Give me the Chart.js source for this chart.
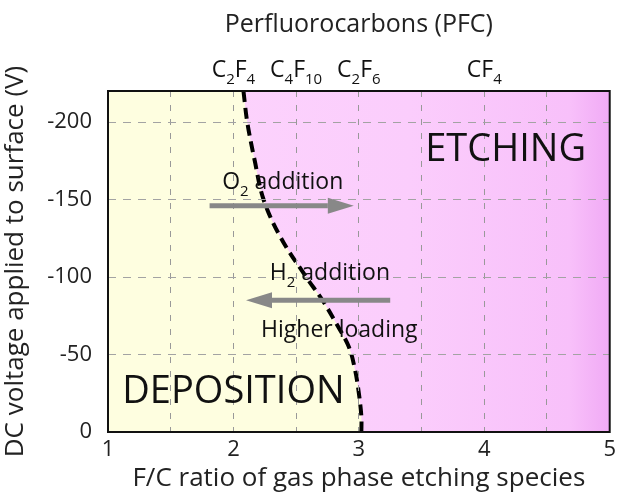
<!DOCTYPE html>
<html>
<head>
<meta charset="utf-8">
<script src="https://cdn.jsdelivr.net/npm/chart.js@4"></script>
<style>
  html, body { margin: 0; padding: 0; background: #fff; }
  #wrap { width: 621px; height: 494px; }
</style>
</head>
<body>
<div id="wrap"><canvas id="chart" width="621" height="494"></canvas></div>
<script>
// boundary between deposition and etching (F/C ratio vs DC voltage)
const boundaryVolts = [-220, -200, -175, -150, -125, -100, -85, -70, -55, -40, -25, -10, 0];
const boundaryFC    = [2.08, 2.11, 2.17, 2.24, 2.38, 2.58, 2.71, 2.82, 2.92, 2.97, 3.00, 3.02, 3.02];

// gases on the top axis, placed at their F/C ratio
const gasFC     = [2, 2.5, 3, 4];
const gasLabels = ['C_2F_4', 'C_4F_10', 'C_2F_6', 'CF_4'];

// process arrows: [from F/C, to F/C, voltage]
const o2Arrow = [1.81, 2.96, -146];
const h2Arrow = [3.25, 2.10, -85];

const xTicks = [1, 2, 3, 4, 5];
const yTicks = [0, -50, -100, -150, -200];

const FONT = "'Open Sans', 'Noto Sans', sans-serif";

function parseRich(str) {
    const parts = [];
    let i = 0;
    while (i < str.length) {
        let j = i;
        if (str[i] === '_') {
            j = i + 1;
            while (j < str.length && /\d/.test(str[j])) j++;
            parts.push({ t: str.slice(i + 1, j), sub: true });
        } else {
            while (j < str.length && str[j] !== '_') j++;
            parts.push({ t: str.slice(i, j), sub: false });
        }
        i = j;
    }
    return parts;
}

// text with subscripts, y is the baseline
function drawRich(ctx, str, x, y, size, align) {
    const parts = parseRich(str);
    const subSize = Math.round(size * 0.66);
    let total = 0;
    parts.forEach(p => {
        ctx.font = (p.sub ? subSize : size) + 'px ' + FONT;
        p.w = ctx.measureText(p.t).width;
        total += p.w;
    });
    let cx = align === 'center' ? x - total / 2 : x;
    ctx.textAlign = 'left';
    ctx.textBaseline = 'alphabetic';
    parts.forEach(p => {
        ctx.font = (p.sub ? subSize : size) + 'px ' + FONT;
        ctx.fillText(p.t, cx, p.sub ? y + size * 0.3 : y);
        cx += p.w;
    });
}

function drawArrow(ctx, x0, x1, y) {
    const dir = Math.sign(x1 - x0);
    const head = 26, half = 8;
    ctx.save();
    ctx.strokeStyle = '#888888';
    ctx.fillStyle = '#888888';
    ctx.lineWidth = 5;
    ctx.beginPath();
    ctx.moveTo(x0, y);
    ctx.lineTo(x1 - dir * head, y);
    ctx.stroke();
    ctx.beginPath();
    ctx.moveTo(x1, y);
    ctx.lineTo(x1 - dir * head, y - half);
    ctx.lineTo(x1 - dir * head, y + half);
    ctx.closePath();
    ctx.fill();
    ctx.restore();
}

const backdrop = {
    id: 'backdrop',
    beforeDraw(chart) {
        const { ctx, chartArea: a } = chart;
        const g = ctx.createLinearGradient(a.left, 0, a.right, 0);
        g.addColorStop(0, '#fdd6fd');
        g.addColorStop(0.6, '#fbcdfc');
        g.addColorStop(0.92, '#f8c0fa');
        g.addColorStop(1, '#f0aaf5');
        ctx.save();
        ctx.fillStyle = g;
        ctx.fillRect(a.left, a.top, a.width, a.height);
        ctx.restore();
    }
};

const notes = {
    id: 'notes',
    afterDraw(chart) {
        const { ctx, chartArea: a } = chart;
        const sx = chart.scales.x, sy = chart.scales.y, sx2 = chart.scales.x2;

        ctx.save();
        ctx.strokeStyle = '#111';
        ctx.lineWidth = 2;
        ctx.strokeRect(a.left, a.top, a.width, a.height);

        drawArrow(ctx, sx.getPixelForValue(o2Arrow[0]), sx.getPixelForValue(o2Arrow[1]), sy.getPixelForValue(o2Arrow[2]));
        drawArrow(ctx, sx.getPixelForValue(h2Arrow[0]), sx.getPixelForValue(h2Arrow[1]), sy.getPixelForValue(h2Arrow[2]));

        ctx.fillStyle = '#111';
        drawRich(ctx, 'ETCHING', sx.getPixelForValue(4.17), sy.getPixelForValue(-175), 38, 'center');
        drawRich(ctx, 'DEPOSITION', sx.getPixelForValue(2.0), sy.getPixelForValue(-19), 38, 'center');
        drawRich(ctx, 'O_2 addition', sx.getPixelForValue(1.91), sy.getPixelForValue(-157), 23, 'left');
        drawRich(ctx, 'H_2 addition', sx.getPixelForValue(2.29), sy.getPixelForValue(-98), 23, 'left');
        drawRich(ctx, 'Higher loading', sx.getPixelForValue(2.22), sy.getPixelForValue(-61), 23, 'left');

        gasFC.forEach((v, i) => {
            drawRich(ctx, gasLabels[i], sx2.getPixelForValue(v), 77, 23, 'center');
        });
        ctx.restore();
    }
};

new Chart(document.getElementById('chart'), {
    type: 'line',
    data: {
        datasets: [{
            label: 'boundary',
            data: boundaryFC.map((fc, i) => ({ x: fc, y: boundaryVolts[i] })),
            borderColor: '#000',
            borderWidth: 4,
            borderDash: [11, 6],
            backgroundColor: '#fefee0',
            fill: { value: 1 },
            pointRadius: 0,
            tension: 0.35
        }]
    },
    options: {
        responsive: false,
        animation: false,
        indexAxis: 'y',
        layout: { padding: { left: 0, right: 8, top: 0, bottom: 0 } },
        plugins: { legend: { display: false }, tooltip: { enabled: false } },
        scales: {
            x: {
                type: 'linear',
                position: 'bottom',
                min: 1, max: 5,
                afterBuildTicks: s => { s.ticks = [1, 1.5, 2, 2.5, 3, 3.5, 4, 4.5, 5].map(v => ({ value: v })); },
                ticks: {
                    autoSkip: false,
                    maxRotation: 0,
                    padding: 5,
                    color: '#222',
                    font: { family: FONT, size: 22 },
                    callback: v => xTicks.includes(v) ? String(v) : ''
                },
                grid: { color: '#999', lineWidth: 1, drawTicks: false, z: 1 },
                border: { display: false, dash: [6, 8] },
                title: {
                    display: true,
                    text: 'F/C ratio of gas phase etching species',
                    color: '#222',
                    font: { family: FONT, size: 26 },
                    padding: { top: 0, bottom: 0 }
                },
                afterFit: s => { s.height = 62; }
            },
            x2: {
                type: 'linear',
                position: 'top',
                min: 1, max: 5,
                ticks: { display: false },
                grid: { display: false },
                border: { display: false },
                title: {
                    display: true,
                    text: 'Perfluorocarbons (PFC)',
                    color: '#222',
                    font: { family: FONT, size: 25 },
                    padding: { top: 10, bottom: 0 }
                },
                afterFit: s => { s.height = 91; }
            },
            y: {
                type: 'linear',
                reverse: true,
                min: -220, max: 0,
                afterBuildTicks: s => { s.ticks = yTicks.map(v => ({ value: v })); },
                ticks: {
                    padding: 16,
                    color: '#222',
                    font: { family: FONT, size: 22 }
                },
                grid: { color: '#a3a3a3', lineWidth: 1, drawTicks: false, z: 1 },
                border: { display: false, dash: [8, 7] },
                title: {
                    display: true,
                    text: 'DC voltage applied to surface (V)',
                    color: '#222',
                    font: { family: FONT, size: 26 },
                    padding: { top: 0, bottom: 0 }
                },
                afterFit: s => { s.width = 108; }
            }
        }
    },
    plugins: [backdrop, notes]
});
</script>
</body>
</html>
